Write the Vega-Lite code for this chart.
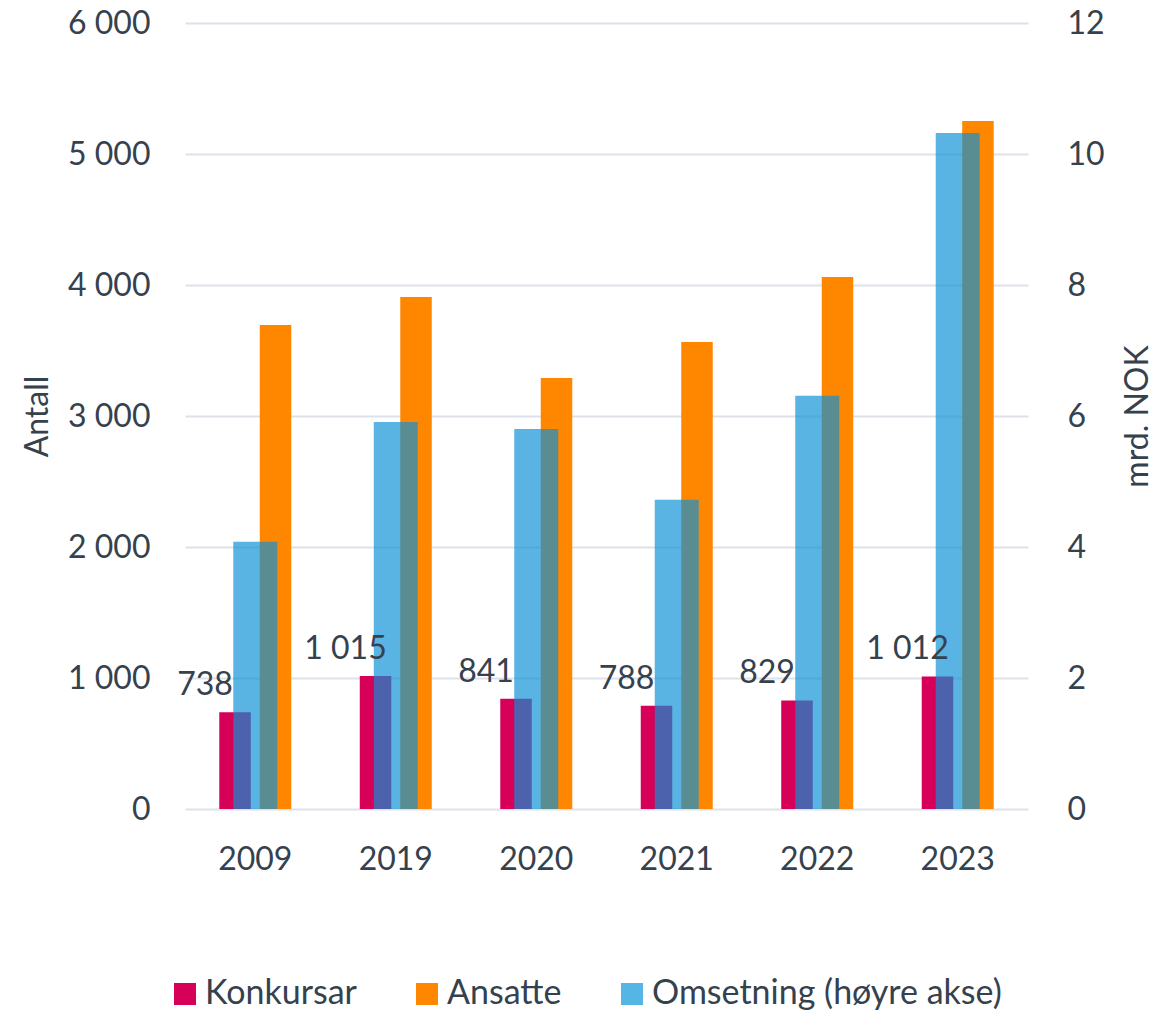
{
  "$schema": "https://vega.github.io/schema/vega-lite/v6.json",
  "width": 843,
  "height": 786,
  "autosize": {"type": "none"},
  "padding": {"left": 185, "top": 23, "right": 148, "bottom": 204},
  "config": {
    "locale": {"number": {"decimal": ",", "thousands": " ", "grouping": [3], "currency": ["", " kr"]}},
    "font": "Lato",
    "view": {"stroke": null},
    "axis": {
      "labelFont": "Lato", "labelFontSize": 32, "labelColor": "#36414e",
      "titleFont": "Lato", "titleFontSize": 32, "titleColor": "#36414e", "titleFontWeight": "normal",
      "ticks": false, "domain": false
    }
  },
  "data": {
    "values": [
      {"year": "2009", "series": "Konkursar", "value": 738},
      {"year": "2019", "series": "Konkursar", "value": 1015},
      {"year": "2020", "series": "Konkursar", "value": 841},
      {"year": "2021", "series": "Konkursar", "value": 788},
      {"year": "2022", "series": "Konkursar", "value": 829},
      {"year": "2023", "series": "Konkursar", "value": 1012},
      {"year": "2009", "series": "Ansatte", "value": 3695},
      {"year": "2019", "series": "Ansatte", "value": 3908},
      {"year": "2020", "series": "Ansatte", "value": 3290},
      {"year": "2021", "series": "Ansatte", "value": 3565},
      {"year": "2022", "series": "Ansatte", "value": 4061},
      {"year": "2023", "series": "Ansatte", "value": 5252},
      {"year": "2009", "series": "Omsetning (høyre akse)", "value": 4.08},
      {"year": "2019", "series": "Omsetning (høyre akse)", "value": 5.91},
      {"year": "2020", "series": "Omsetning (høyre akse)", "value": 5.80},
      {"year": "2021", "series": "Omsetning (høyre akse)", "value": 4.72},
      {"year": "2022", "series": "Omsetning (høyre akse)", "value": 6.31},
      {"year": "2023", "series": "Omsetning (høyre akse)", "value": 10.32}
    ]
  },
  "encoding": {
    "x": {
      "field": "year", "type": "nominal",
      "scale": {"paddingInner": 0.4875, "paddingOuter": 0.244},
      "axis": {"title": null, "labelAngle": 0, "labelPadding": 35, "grid": false}
    }
  },
  "layer": [
    {
      "transform": [{"filter": "datum.series !== 'Omsetning (høyre akse)'"}],
      "mark": {"type": "bar"},
      "encoding": {
        "xOffset": {"field": "series", "type": "nominal", "scale": {"domain": ["Konkursar", "Ansatte"], "paddingInner": 0.222}},
        "y": {
          "field": "value", "type": "quantitative",
          "scale": {"domain": [0, 6000]},
          "axis": {
            "title": "Antall", "values": [0, 1000, 2000, 3000, 4000, 5000, 6000], "format": ",d",
            "grid": true, "gridColor": "#dde2e8", "gridWidth": 2,
            "labelPadding": 35, "titleX": -148, "titleY": 393, "titleBaseline": "middle", "titleAngle": 270
          }
        },
        "color": {
          "field": "series", "type": "nominal",
          "scale": {"domain": ["Konkursar", "Ansatte", "Omsetning (høyre akse)"], "range": ["#d60058", "#ff8700", "#55b5e5"]},
          "legend": {
            "title": null, "orient": "none", "legendX": -17, "legendY": 954, "direction": "horizontal",
            "symbolType": "square", "symbolSize": 484, "symbolStrokeWidth": 0,
            "labelFont": "Lato", "labelFontSize": 34, "labelColor": "#36414e", "labelLimit": 0,
            "columnPadding": 53, "labelOffset": 3
          }
        }
      }
    },
    {
      "transform": [{"filter": "datum.series === 'Omsetning (høyre akse)'"}],
      "mark": {"type": "bar", "fill": "#0a91d6", "opacity": 0.68, "width": {"band": 0.611}},
      "encoding": {
        "y": {
          "field": "value", "type": "quantitative",
          "scale": {"domain": [0, 12]},
          "axis": {
            "orient": "right", "title": "mrd. NOK", "values": [0, 2, 4, 6, 8, 10, 12],
            "grid": false, "labelPadding": 39,
            "titleX": 109, "titleY": 393, "titleBaseline": "middle", "titleAngle": 270
          }
        }
      }
    },
    {
      "transform": [{"filter": "datum.series === 'Konkursar'"}],
      "mark": {"type": "text", "dx": -30, "dy": -17, "baseline": "alphabetic", "align": "center", "fontSize": 32, "font": "Lato", "color": "#36414e"},
      "encoding": {
        "xOffset": {"field": "series", "type": "nominal"},
        "y": {"field": "value", "type": "quantitative", "scale": {"domain": [0, 6000]}, "axis": null},
        "text": {"field": "value", "type": "quantitative", "format": ",d"}
      }
    }
  ],
  "resolve": {"scale": {"y": "independent"}}
}
